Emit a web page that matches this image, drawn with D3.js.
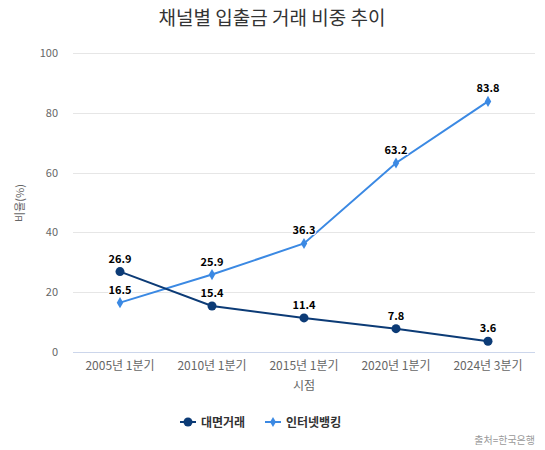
<!DOCTYPE html>
<html>
<head>
<meta charset="utf-8">
<script src="https://cdn.jsdelivr.net/npm/d3@7"></script>
<style>
  body { margin: 0; background: #fff; font-family: "Noto Sans CJK KR", "Noto Sans", sans-serif; }
</style>
</head>
<body>
<div id="container"></div>
<script>
const categories = ["2005년 1분기", "2010년 1분기", "2015년 1분기", "2020년 1분기", "2024년 3분기"];
const faceToFace = [26.9, 15.4, 11.4, 7.8, 3.6];
const internetBanking = [16.5, 25.9, 36.3, 63.2, 83.8];
const yTicks = [0, 20, 40, 60, 80, 100];

const w = 545;
const h = 450;
const navy = "#0c3b76";
const blue = "#3b89e3";

const svg = d3.select("#container")
  .append("svg")
  .attr("width", w)
  .attr("height", h);

const xScale = d3.scaleBand()
  .domain(categories)
  .range([74, 534]);

const yScale = d3.scaleLinear()
  .domain([0, 100])
  .range([352, 53]);

// gridlines
svg.append("g")
  .selectAll("line")
  .data(yTicks)
  .enter()
  .append("line")
  .attr("x1", 73)
  .attr("x2", 535)
  .attr("y1", (d) => Math.round(yScale(d)) + 0.5)
  .attr("y2", (d) => Math.round(yScale(d)) + 0.5)
  .attr("stroke", (d) => d === 0 ? "#ccd6eb" : "#e6e6e6")
  .attr("stroke-width", 1);

// y tick labels
svg.append("g")
  .selectAll("text")
  .data(yTicks)
  .enter()
  .append("text")
  .attr("x", 58)
  .attr("y", (d) => yScale(d) + 4)
  .attr("text-anchor", "end")
  .style("font-size", "11px")
  .style("fill", "#666")
  .text((d) => d);

// x axis labels
const xAxis = d3.axisBottom(xScale).tickSize(0);
const gx = svg.append("g")
  .attr("transform", "translate(0, 352)")
  .call(xAxis);
gx.select(".domain").remove();
gx.selectAll("text")
  .attr("y", 9)
  .style("font-size", "12px")
  .style("font-family", "'Noto Sans CJK KR', sans-serif")
  .style("fill", "#666");

// axis titles
svg.append("text")
  .attr("x", 304)
  .attr("y", 390)
  .attr("text-anchor", "middle")
  .style("font-size", "12px")
  .style("fill", "#666")
  .text("시점");

svg.append("text")
  .attr("transform", "translate(24, 203) rotate(-90)")
  .attr("text-anchor", "middle")
  .style("font-size", "11px")
  .style("fill", "#666")
  .text("비율(%)");

// title
svg.append("text")
  .attr("x", 272)
  .attr("y", 25)
  .attr("text-anchor", "middle")
  .style("font-size", "19px")
  .style("fill", "#333")
  .text("채널별 입출금 거래 비중 추이");

const cx = (i) => xScale(categories[i]) + xScale.bandwidth() / 2;

const line = d3.line()
  .x((d, i) => cx(i))
  .y((d) => yScale(d));

// internet banking
svg.append("path")
  .datum(internetBanking)
  .attr("d", line)
  .attr("fill", "none")
  .attr("stroke", blue)
  .attr("stroke-width", 2);

svg.append("g")
  .selectAll("path")
  .data(internetBanking)
  .enter()
  .append("path")
  .attr("d", d3.symbol(d3.symbolDiamond, 36))
  .attr("transform", (d, i) => "translate(" + cx(i) + "," + yScale(d) + ")")
  .attr("fill", blue);

// face to face
svg.append("path")
  .datum(faceToFace)
  .attr("d", line)
  .attr("fill", "none")
  .attr("stroke", navy)
  .attr("stroke-width", 2);

svg.append("g")
  .selectAll("circle")
  .data(faceToFace)
  .enter()
  .append("circle")
  .attr("cx", (d, i) => cx(i))
  .attr("cy", (d) => yScale(d))
  .attr("r", 4.5)
  .attr("fill", navy);

// data labels
function labels(data) {
  svg.append("g")
    .selectAll("text")
    .data(data)
    .enter()
    .append("text")
    .attr("x", (d, i) => cx(i))
    .attr("y", (d) => yScale(d) - 9)
    .attr("text-anchor", "middle")
    .style("font-size", "11px")
    .style("font-weight", "bold")
    .style("fill", "#000")
    .style("paint-order", "stroke")
    .style("stroke", "#fff")
    .style("stroke-width", "2px")
    .text((d) => d.toFixed(1));
}
labels(internetBanking);
labels(faceToFace);

// legend
const legend = svg.append("g");
legend.append("line")
  .attr("x1", 180).attr("x2", 196)
  .attr("y1", 422).attr("y2", 422)
  .attr("stroke", navy).attr("stroke-width", 2);
legend.append("circle")
  .attr("cx", 188).attr("cy", 422).attr("r", 4.5)
  .attr("fill", navy);
legend.append("text")
  .attr("x", 201).attr("y", 426.5)
  .style("font-size", "12px")
  .style("font-weight", "bold")
  .style("fill", "#333")
  .text("대면거래");

legend.append("line")
  .attr("x1", 265).attr("x2", 281)
  .attr("y1", 422).attr("y2", 422)
  .attr("stroke", blue).attr("stroke-width", 2);
legend.append("path")
  .attr("d", d3.symbol(d3.symbolDiamond, 30))
  .attr("transform", "translate(273,422)")
  .attr("fill", blue);
legend.append("text")
  .attr("x", 286).attr("y", 426.5)
  .style("font-size", "12px")
  .style("font-weight", "bold")
  .style("fill", "#333")
  .text("인터넷뱅킹");

// credit
svg.append("text")
  .attr("x", 535)
  .attr("y", 444)
  .attr("text-anchor", "end")
  .style("font-size", "10px")
  .style("fill", "#999")
  .text("출처=한국은행");
</script>
</body>
</html>
